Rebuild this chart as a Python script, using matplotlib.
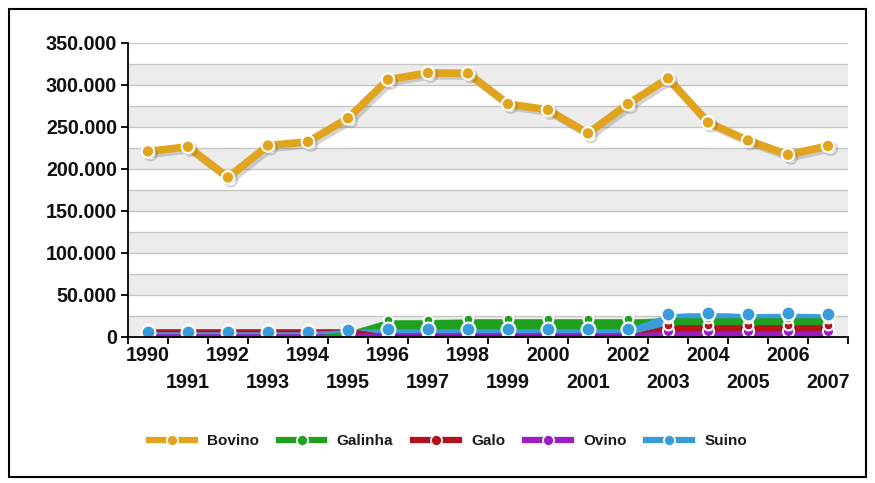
import matplotlib
matplotlib.use("Agg")
import matplotlib.pyplot as plt
import matplotlib.patheffects as pe
from matplotlib.lines import Line2D
from matplotlib.patches import Rectangle
from matplotlib.ticker import FuncFormatter
import numpy as np

plt.rcParams['font.family'] = ['Liberation Sans', 'DejaVu Sans']

years = [str(y) for y in range(1990, 2008)]
bovino = [220500, 226000, 189500, 227500, 232000, 260000, 306000, 314000, 313500,
          277000, 270000, 242000, 277000, 307500, 255000, 233500, 216500, 227000]
galinha = [0, 0, 0, 0, 0, 6000, 20000, 20000, 20500,
           20500, 20500, 20500, 20500, 22000, 22000, 22000, 22000, 22000]
galo = [9500, 9500, 9500, 9500, 9500, 9500, 2000, 2000, 2000,
        2000, 2000, 2000, 2000, 13500, 13500, 13500, 13500, 13500]
ovino = [3000, 3000, 3000, 3000, 3000, 3500, 4000, 4000, 4000,
         4000, 4000, 4000, 4000, 6000, 6000, 6000, 6000, 6000]
suino = [5500, 5500, 5500, 5500, 5500, 8000, 9500, 9500, 9500,
         9500, 9500, 9500, 9500, 27000, 28500, 27000, 27500, 27000]

names = ['Bovino', 'Galinha', 'Galo', 'Ovino', 'Suino']
colors = {'Bovino': '#E1A41F', 'Galinha': '#1FA01F', 'Galo': '#B3121C',
          'Ovino': '#9A1DC5', 'Suino': '#3A9BDC'}
areas = {'Galinha': galinha, 'Galo': galo, 'Ovino': ovino, 'Suino': suino}

fig = plt.figure(figsize=(8.75, 4.83), dpi=100)
ax = fig.add_axes([128 / 875, 1 - 336.5 / 483, 720 / 875, (336.5 - 42.7) / 483])

x = np.arange(len(years))
ymax = 350000

# alternating horizontal bands and grid lines
for lo in range(0, ymax, 50000):
    ax.axhspan(lo, lo + 25000, color='#ECECEC', zorder=0, lw=0)
for g in range(25000, ymax + 1, 25000):
    ax.axhline(g, color='#C6C6C6', lw=1.0, zorder=0.5)

# overlapping areas: per interval, the smaller series sits in front
for i in range(len(x) - 1):
    means = {k: (v[i] + v[i + 1]) / 2 for k, v in areas.items()}
    order = sorted(means, key=lambda k: -means[k])
    for rank, k in enumerate(order):
        v = areas[k]
        ax.fill_between(x[i:i + 2], 0, v[i:i + 2], color=colors[k],
                        lw=0.4, edgecolor=colors[k], zorder=2 + rank * 0.1)

# markers of the area series
for k, ms in [('Ovino', 8), ('Galo', 7), ('Galinha', 7), ('Suino', 10)]:
    ax.plot(x, areas[k], ls='none', marker='o', ms=ms, mfc=colors[k],
            mec='white', mew=1.5, zorder=4)

# Bovino line
ax.plot(x, bovino, color=colors['Bovino'], lw=5.5, solid_capstyle='round',
        marker='o', ms=9, mfc=colors['Bovino'], mec='white', mew=1.5, zorder=5,
        path_effects=[pe.SimpleLineShadow(offset=(2, -2), alpha=0.25, shadow_color='#555555'),
                      pe.Normal()])

ax.set_xlim(-0.5, len(x) - 0.5)
ax.set_ylim(0, ymax)

for s in ['top', 'right']:
    ax.spines[s].set_visible(False)
for s in ['left', 'bottom']:
    ax.spines[s].set_color('black')
    ax.spines[s].set_linewidth(1.3)
    ax.spines[s].set_zorder(6)

fs = 14.2
ax.set_yticks(range(0, ymax + 1, 50000))
ax.yaxis.set_major_formatter(FuncFormatter(lambda v, p: f"{int(v):,}".replace(',', '.')))
ax.tick_params(axis='y', length=5, width=1.3, color='black', pad=3,
               labelsize=fs, labelcolor='#111111')
for lab in ax.get_yticklabels():
    lab.set_fontweight('bold')

# boundary ticks on the category axis
ax.set_xticks(np.arange(-0.5, len(x), 1.0))
ax.tick_params(axis='x', which='major', length=5, width=1.3, color='black',
               labelbottom=False)
# even years on the first row
even = x[::2]
ax.set_xticks(even, minor=True)
ax.set_xticklabels([years[i] for i in even], minor=True)
ax.tick_params(axis='x', which='minor', length=0, pad=7, labelsize=fs,
               labelcolor='#111111')
for lab in ax.get_xticklabels(minor=True):
    lab.set_fontweight('bold')
# odd years on the second row
sec = ax.secondary_xaxis('bottom')
odd = x[1::2]
sec.set_xticks(odd)
sec.set_xticklabels([years[i] for i in odd])
sec.tick_params(length=0, pad=26.5, labelsize=fs, labelcolor='#111111')
sec.spines['bottom'].set_visible(False)
for lab in sec.get_xticklabels():
    lab.set_fontweight('bold')

handles = [Line2D([], [], color=colors[n], lw=4.5, marker='o', ms=8, mfc=colors[n],
                  mec='white', mew=1.3) for n in names]
leg = fig.legend(handles, names, loc='center', bbox_to_anchor=(448 / 875, 1 - 441 / 483),
                 ncol=5, frameon=False, handlelength=3.0, columnspacing=1.3,
                 handletextpad=0.8, prop={'weight': 'bold', 'size': 11})
for t in leg.get_texts():
    t.set_color('#1a1a1a')

fig.patches.append(Rectangle((9 / 875, 1 - 477 / 483), 857 / 875, 468 / 483,
                             transform=fig.transFigure, fill=False,
                             edgecolor='black', lw=1.5))

fig.savefig('out.png', dpi=100)
